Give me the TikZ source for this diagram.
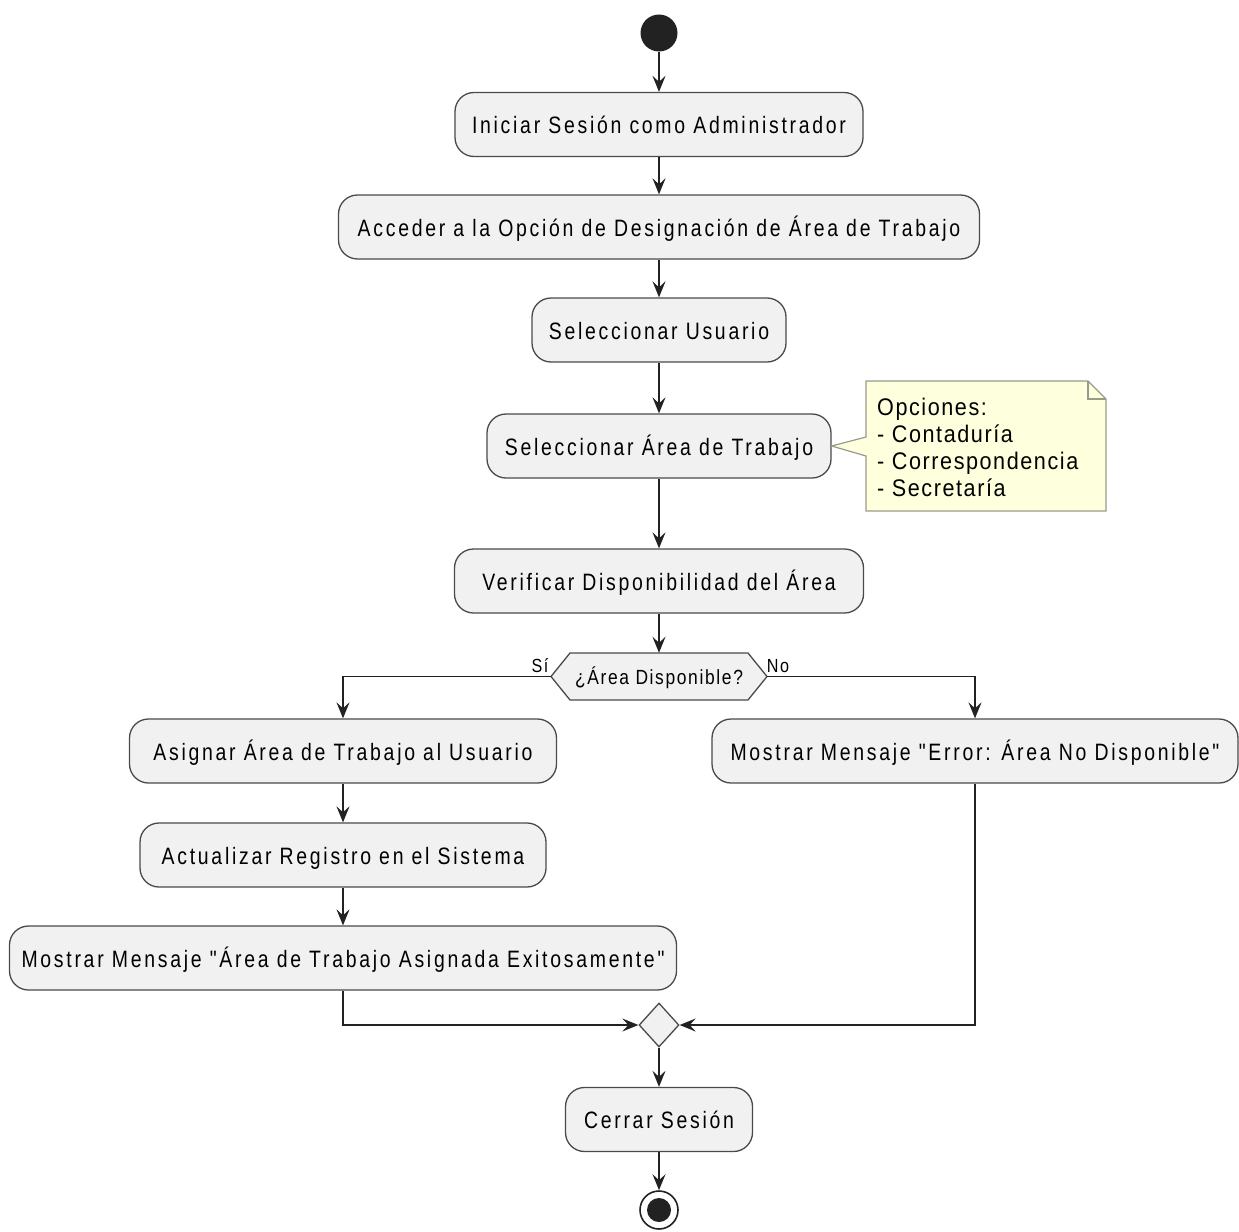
\documentclass[tikz,border=0pt]{standalone}
\usepackage{fontspec}
\usetikzlibrary{arrows.meta,shapes.geometric}
\newfontfamily\actfont[FakeStretch=0.82,LetterSpace=11.5]{Liberation Sans}
\newfontfamily\notefont[FakeStretch=0.9,LetterSpace=6.5]{Liberation Sans}
\newfontfamily\decfont[FakeStretch=0.85,LetterSpace=8]{Liberation Sans}
\definecolor{boxf}{HTML}{F1F1F1}
\definecolor{bord}{HTML}{4A4A4A}
\definecolor{notef}{HTML}{FEFFDD}
\definecolor{noteb}{HTML}{9A9A8A}
\definecolor{lnc}{HTML}{222222}
\begin{document}
\begin{tikzpicture}[x=1pt,y=-1pt,
 act/.style={draw=bord, fill=boxf, rounded corners=19pt, minimum height=64pt, inner sep=0pt, text height=18pt, text depth=0pt, line width=1.3pt, font=\actfont\fontsize{23.7pt}{28pt}\selectfont, text=black},
 flow/.style={draw=lnc, line width=1.6pt, -{Stealth[length=16pt,width=13pt,inset=6pt]}},
 lbl/.style={inner sep=0pt, font=\decfont\fontsize{19pt}{22pt}\selectfont, text=black}]
\useasboundingbox (0,0) rectangle (1239,1231);
% start
\node[circle, fill=lnc, minimum size=37pt, inner sep=0pt] (s) at (659,33) {};
\node[act, minimum width=408pt] (a1) at (659,124.5) {Iniciar Sesión como Administrador};
\node[act, minimum width=641pt] (a2) at (659,227) {Acceder a la Opción de Designación de Área de Trabajo};
\node[act, minimum width=254pt] (a3) at (659,330) {Seleccionar Usuario};
\node[act, minimum width=344pt] (a4) at (659,446) {Seleccionar Área de Trabajo};
\node[act, minimum width=409pt] (a5) at (659,581) {Verificar Disponibilidad del Área};
% decision
\draw[draw=bord, fill=boxf, line width=1.3pt] (551,676.5) -- (570,653) -- (748,653) -- (767,676.5) -- (748,700) -- (570,700) -- cycle;
\node[inner sep=0pt, minimum width=216pt, minimum height=47pt, text height=15pt, text depth=0pt, font=\decfont\fontsize{20.5pt}{24pt}\selectfont] (dec) at (659,676.5) {¿Área Disponible?};
\node[lbl, anchor=base] (si) at (540,672) {Sí};
\node[lbl, anchor=base] (no) at (778,672) {No};
\node[act, minimum width=427pt] (a6) at (343,751) {Asignar Área de Trabajo al Usuario};
\node[act, minimum width=526pt] (e1) at (975,751) {Mostrar Mensaje "Error: Área No Disponible"};
\node[act, minimum width=406pt] (a7) at (343,855) {Actualizar Registro en el Sistema};
\node[act, minimum width=667pt] (a8) at (343,958) {Mostrar Mensaje "Área de Trabajo Asignada Exitosamente"};
\node[diamond, aspect=1, draw=bord, fill=boxf, line width=1.3pt, minimum width=40pt, minimum height=44pt, inner sep=0pt] (m) at (659,1025) {};
\node[act, minimum width=187pt] (a9) at (659,1119.5) {Cerrar Sesión};
\node[circle, draw=lnc, fill=white, line width=1.6pt, minimum size=38pt, inner sep=0pt] (en) at (659,1210) {};
\node[circle, fill=lnc, minimum size=24pt, inner sep=0pt] (enin) at (659,1210) {};
% note
\draw[draw=noteb, fill=notef, line width=1.2pt] (866,381) -- (1088,381) -- (1106,399) -- (1106,511) -- (866,511) -- (866,456) -- (a4.east) -- (866,437) -- cycle;
\draw[draw=noteb, line width=1.2pt] (1088,381) -- (1088,399) -- (1106,399);
\node[anchor=north west, align=left, inner sep=0pt, font=\notefont\fontsize{24pt}{27pt}\selectfont] (note) at (877,398) {Opciones:\\- Contaduría\\- Correspondencia\\- Secretaría};
% connectors
\draw[flow] (s) -- (a1);
\draw[flow] (a1) -- (a2);
\draw[flow] (a2) -- (a3);
\draw[flow] (a3) -- (a4);
\draw[flow] (a4) -- (a5);
\draw[flow] (a5) -- (dec.north);
\draw[flow] (dec.west) -| (a6.north);
\draw[flow] (dec.east) -| (e1.north);
\draw[flow] (a6) -- (a7);
\draw[flow] (a7) -- (a8);
\draw[flow] (a8.south) |- (m.west);
\draw[flow] (e1.south) |- (m.east);
\draw[flow] (m) -- (a9);
\draw[flow] (a9) -- (en);
\end{tikzpicture}
\end{document}
